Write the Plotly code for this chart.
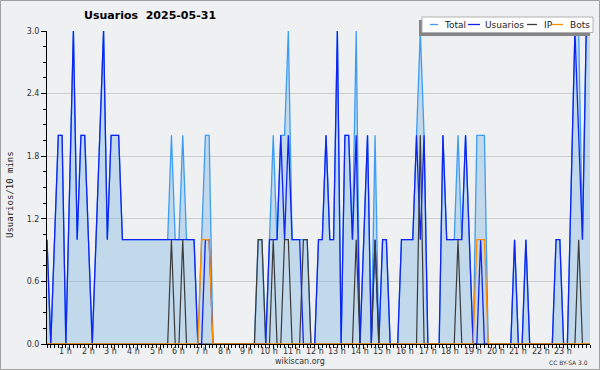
import plotly.graph_objects as go

# ---- data (per 10 minutes, 00:00 .. 24:00) ----
users = [1, 0, 1, 2, 2, 0, 1.5, 3, 1, 2, 2, 1, 0, 1, 2, 3, 1, 2, 2, 2,
         1, 1, 1, 1, 1, 1, 1, 1, 1, 1, 1, 1, 1, 1, 1, 1, 1, 1, 1, 1,
         0, 0, 1, 1,
         0, 0, 0, 0, 0, 0, 0, 0, 0, 0, 0, 0, 0, 0, 0,
         1, 1, 1, 2, 1, 2, 1, 1, 1,
         0, 0, 0, 0,
         1, 1, 2, 1, 1, 3, 0, 2, 2, 1, 2, 0, 1, 2, 0, 1, 0, 1, 1, 0, 0, 0,
         1, 1, 1, 1, 2, 1, 2, 0, 0, 0, 0, 2, 1, 1, 1, 1, 1, 2, 1, 0, 0, 1, 0, 0,
         0, 0, 0, 0, 0, 0,
         1, 0, 0, 1,
         0, 0, 0, 0, 0, 0, 0,
         1, 1, 0, 0, 1.5, 3, 2, 1, 3, 3]

total = [1, 0, 1, 2, 2, 0, 1.5, 3, 1, 2, 2, 1, 0, 1, 2, 3, 1, 2, 2, 2,
         1, 1, 1, 1, 1, 1, 1, 1, 1, 1, 1, 1, 1, 2, 1, 1, 2, 1, 1, 1,
         0, 1, 2, 2,
         0, 0, 0, 0, 0, 0, 0, 0, 0, 0, 0, 0, 1, 1, 0,
         1, 2, 1, 2, 2, 3, 1, 1, 1,
         1, 1, 0, 0,
         1, 1, 2, 1, 1, 3, 0, 2, 2, 1, 3, 0, 1, 2, 0, 2, 0, 1, 1, 0, 0, 0,
         1, 1, 1, 1, 2, 3, 2, 0, 0, 0, 0, 2, 1, 1, 1, 2, 1, 2, 1, 0, 2, 2, 2, 0,
         0, 0, 0, 0, 0, 0,
         1, 0, 0, 1,
         0, 0, 0, 0, 0, 0, 0,
         1, 1, 0, 0, 1.5, 3, 3, 1, 3, 3]

ip = [0] * 33 + [1, 0, 0, 1] + [0] * 19 + [1, 1, 0, 0, 1, 0, 0, 1, 1, 0, 0, 0, 1, 1] + \
     [0] * 12 + [1, 0, 0, 0, 0, 1] + [0] * 11 + [2] + [0] * 9 + [1] + [0] * 31 + [1, 0, 0, 0]

bots = [0] * 41 + [1, 1, 1] + [0] * 70 + [1, 1, 1] + [0] * 28

hours = list(range(1, 24))
hour_labels = [f"{h} h" for h in hours]
y_ticks = [0.0, 0.6, 1.2, 1.8, 2.4, 3.0]
y_labels = ["0.0", "0.6", "1.2", "1.8", "2.4", "3.0"]
legend_names = ["Total", "Usuarios", "IP", "Bots"]

C_TOTAL = "#3d9cf5"
C_USERS = "#1024f0"
C_IP = "#3a3a3a"
C_BOTS = "#ff8c00"
FILL = "rgba(120,175,225,0.38)"
BG = "#eff0f1"

minutes = [10 * i for i in range(len(total))]

W, H = 600, 370
L, R, T, B = 47, 10, 31, 26
PW, PH = W - L - R, H - T - B


def px(x):
    return (x - L) / PW


def py(y):
    return (H - B - y) / PH


fig = go.Figure()
fig.add_trace(go.Scatter(x=minutes, y=total, mode="lines", name=legend_names[0],
                         line=dict(color=C_TOTAL, width=1.3), fill="tozeroy",
                         fillcolor=FILL, showlegend=False))
fig.add_trace(go.Scatter(x=minutes, y=users, mode="lines", name=legend_names[1],
                         line=dict(color=C_USERS, width=1.3), showlegend=False))
fig.add_trace(go.Scatter(x=minutes, y=ip, mode="lines", name=legend_names[2],
                         line=dict(color=C_IP, width=1.2), showlegend=False))
fig.add_trace(go.Scatter(x=minutes, y=bots, mode="lines", name=legend_names[3],
                         line=dict(color=C_BOTS, width=1.3), showlegend=False))

tick_font = dict(family="DejaVu Sans", size=8, color="#333333")

fig.update_layout(
    width=W, height=H,
    margin=dict(l=L, r=R, t=T, b=B),
    paper_bgcolor=BG, plot_bgcolor=BG,
    showlegend=False,
    xaxis=dict(range=[0, 1440], tickmode="array",
               tickvals=[60 * h for h in hours], showticklabels=False,
               ticks="outside", ticklen=4, tickcolor="#000", tickwidth=1,
               minor=dict(dtick=10, ticklen=3, tickcolor="#000", ticks="outside", showgrid=False),
               showgrid=False, showline=True, linecolor="#000", linewidth=1,
               zeroline=False, fixedrange=True),
    yaxis=dict(range=[0, 3.0], tickmode="array", tickvals=y_ticks, ticktext=y_labels,
               ticks="outside", ticklen=5, tickcolor="#000",
               minor=dict(dtick=0.15, ticklen=3, tickcolor="#000", ticks="outside", showgrid=False),
               showgrid=True, gridcolor="#cdcdcd", gridwidth=1,
               showline=True, linecolor="#000", linewidth=1, zeroline=False,
               tickfont=tick_font, fixedrange=True),
)

shapes = []
annotations = []

# x tick labels (drawn slightly left of the hour tick, as in the source)
for h, lab in zip(hours, hour_labels):
    annotations.append(dict(text=lab, xref="x", yref="paper", x=60 * h, y=py(351),
                            xanchor="center", yanchor="middle", xshift=-4, showarrow=False,
                            font=tick_font))

# outer border
shapes.append(dict(type="rect", xref="paper", yref="paper",
                   x0=px(0.5), x1=px(599.5), y0=py(369.5), y1=py(0.5),
                   line=dict(color="#a0a0a0", width=1), fillcolor="rgba(0,0,0,0)", layer="above"))

# title
annotations.append(dict(text="<b>Usuarios\u00a0 2025-05-31</b>", xref="paper", yref="paper",
                        x=px(150), y=py(16), xanchor="center", yanchor="middle",
                        showarrow=False, font=dict(family="DejaVu Sans", size=11, color="#000")))

# y-axis title
annotations.append(dict(text="Usuarios/10 mins", xref="paper", yref="paper",
                        x=px(10), y=py(195), xanchor="center", yanchor="middle",
                        textangle=-90, showarrow=False,
                        font=dict(family="DejaVu Sans Mono", size=9, color="#222")))

# footer
annotations.append(dict(text="wikiscan.org", xref="paper", yref="paper",
                        x=px(300), y=py(361), xanchor="center", yanchor="middle",
                        showarrow=False, font=dict(family="DejaVu Sans", size=8, color="#333")))
annotations.append(dict(text="CC BY-SA 3.0", xref="paper", yref="paper",
                        x=px(590), y=py(362), xanchor="right", yanchor="middle",
                        showarrow=False, font=dict(family="DejaVu Sans", size=6, color="#333")))

# legend (shadow, box, items)
shapes.append(dict(type="rect", xref="paper", yref="paper", layer="above",
                   x0=px(419), x1=px(590), y0=py(36), y1=py(20),
                   line=dict(width=0), fillcolor="#858585"))
shapes.append(dict(type="rect", xref="paper", yref="paper", layer="above",
                   x0=px(422), x1=px(593), y0=py(32.5), y1=py(17),
                   line=dict(color="#b0b0b0", width=1), fillcolor="#ffffff"))
leg_lines = [(430, 438), (468, 480), (527, 537), (552, 563)]
leg_text_x = [442, 483, 542, 568]
leg_colors = [C_TOTAL, C_USERS, C_IP, C_BOTS]
for (a, b), tx, col, name in zip(leg_lines, leg_text_x, leg_colors, legend_names):
    shapes.append(dict(type="line", xref="paper", yref="paper", layer="above",
                       x0=px(a), x1=px(b), y0=py(24.5), y1=py(24.5),
                       line=dict(color=col, width=1.3)))
    annotations.append(dict(text=name, xref="paper", yref="paper", x=px(tx), y=py(24.5),
                            xanchor="left", yanchor="middle", showarrow=False,
                            font=dict(family="DejaVu Sans", size=9, color="#222")))

fig.update_layout(shapes=shapes, annotations=annotations)
fig.write_html("out.html", config={"displayModeBar": False},
               post_script="document.body.style.margin='0';document.body.style.padding='0';"
                           "document.documentElement.style.overflow='hidden';")
